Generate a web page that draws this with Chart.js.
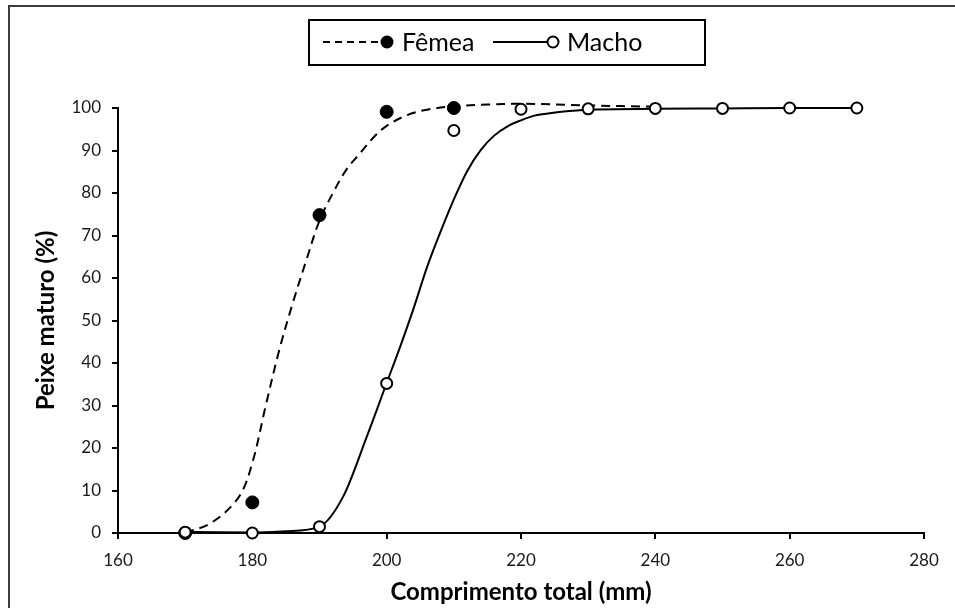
<!DOCTYPE html>
<html>
<head>
<meta charset="utf-8">
<script src="https://cdn.jsdelivr.net/npm/chart.js@4.4.0/dist/chart.umd.min.js"></script>
<style>
  html, body { margin: 0; padding: 0; background: #fff; }
  #wrap { position: relative; width: 955px; height: 608px; overflow: hidden; }
  #frame { position: absolute; left: 8px; top: 5px; width: 1000px; height: 700px;
           border-left: 2px solid #3c3c3c; border-top: 2px solid #3c3c3c; pointer-events: none; }
</style>
</head>
<body>
<div id="wrap">
  <canvas id="chart" width="955" height="608"></canvas>
  <div id="frame"></div>
</div>
<script>
// observed points
const femeaX = [170, 180, 190, 200, 210];
const femeaY = [0, 7.2, 74.8, 99.1, 100];
const machoX = [170, 180, 190, 200, 210, 220, 230, 240, 250, 260, 270];
const machoY = [0.2, 0, 1.5, 35.2, 94.7, 99.7, 99.8, 99.9, 99.9, 100, 100];

// fitted curves
const femeaFitX = [170, 174, 178, 180, 182, 184, 186, 188, 190, 192, 194, 196, 198, 200, 203, 206, 210, 215, 220, 230, 240];
const femeaFitY = [0, 2.5, 8.5, 16.5, 30, 43, 54, 64, 73.5, 80, 85.5, 89.3, 93, 95.8, 98.3, 99.6, 100.4, 100.8, 101, 100.6, 100.3];
const machoFitX = [170, 175, 180, 185, 190, 193.5, 197, 200, 202, 204, 206, 208, 210, 212, 214, 216, 218, 220, 222, 224, 226, 230, 240, 250, 260, 270];
const machoFitY = [0.3, 0.15, 0.1, 0.4, 1.5, 8.5, 22.5, 35.3, 43.8, 52.8, 62.5, 70.8, 78.5, 85.2, 90.1, 93.5, 95.7, 97.1, 98.2, 98.7, 99.1, 99.6, 99.8, 99.9, 100, 100];

const xTicks = [160, 180, 200, 220, 240, 260, 280];

function pts(xs, ys) {
  return xs.map((x, i) => ({ x: x, y: ys[i] }));
}

const legendBox = {
  id: 'legendBox',
  afterDraw(chart) {
    const ctx = chart.ctx;
    const y = 42;
    ctx.save();
    ctx.strokeStyle = '#000';
    ctx.lineWidth = 2;
    ctx.strokeRect(309, 20, 396, 45);

    // Fêmea
    ctx.setLineDash([7, 5]);
    ctx.beginPath();
    ctx.moveTo(323, y);
    ctx.lineTo(380, y);
    ctx.stroke();
    ctx.setLineDash([]);
    ctx.fillStyle = '#000';
    ctx.beginPath();
    ctx.arc(387, y, 6.5, 0, Math.PI * 2);
    ctx.fill();

    // Macho
    ctx.beginPath();
    ctx.moveTo(493, y);
    ctx.lineTo(548, y);
    ctx.stroke();
    ctx.fillStyle = '#fff';
    ctx.beginPath();
    ctx.arc(553, y, 5.5, 0, Math.PI * 2);
    ctx.fill();
    ctx.stroke();

    ctx.fillStyle = '#000';
    ctx.font = '25px Lato';
    ctx.textBaseline = 'middle';
    ctx.fillText('Fêmea', 402, y + 1);
    ctx.fillText('Macho', 567, y + 1);
    ctx.restore();
  }
};

function draw() {
  const ctx = document.getElementById('chart').getContext('2d');
  new Chart(ctx, {
    type: 'line',
    data: {
      datasets: [
        {
          label: 'Macho',
          data: pts(machoX, machoY),
          showLine: false,
          pointRadius: 5.5,
          pointBackgroundColor: '#fff',
          pointBorderColor: '#000',
          pointBorderWidth: 2,
          clip: false
        },
        {
          label: 'Fêmea',
          data: pts(femeaX, femeaY),
          showLine: false,
          pointRadius: 6.5,
          pointBackgroundColor: '#000',
          pointBorderColor: '#000',
          pointBorderWidth: 1,
          clip: false
        },
        {
          label: 'Macho ajuste',
          data: pts(machoFitX, machoFitY),
          borderColor: '#000',
          borderWidth: 2,
          pointRadius: 0,
          cubicInterpolationMode: 'monotone',
          clip: false
        },
        {
          label: 'Fêmea ajuste',
          data: pts(femeaFitX, femeaFitY),
          borderColor: '#000',
          borderWidth: 2,
          borderDash: [9, 6],
          pointRadius: 0,
          tension: 0.35,
          clip: false
        }
      ]
    },
    options: {
      responsive: false,
      animation: false,
      devicePixelRatio: 1,
      layout: { padding: { top: 108, right: 31, left: 0, bottom: 0 } },
      plugins: {
        legend: { display: false },
        tooltip: { enabled: false }
      },
      scales: {
        x: {
          type: 'linear',
          min: 160,
          max: 280,
          afterBuildTicks: function(scale) {
            scale.ticks = xTicks.map(v => ({ value: v }));
          },
          afterFit: function(scale) { scale.height = 75; },
          border: { color: '#000', width: 2 },
          grid: { drawOnChartArea: false, color: '#000', lineWidth: 2, tickLength: 6 },
          ticks: { color: '#1a1a1a', padding: 11, font: { family: 'Lato', size: 17 } },
          title: {
            display: true,
            text: 'Comprimento total (mm)',
            color: '#000',
            padding: { top: 0, bottom: 1 },
            font: { family: 'Lato', size: 24, weight: 'bold' }
          }
        },
        y: {
          min: 0,
          max: 100,
          afterFit: function(scale) { scale.width = 118; },
          border: { color: '#000', width: 2 },
          grid: { drawOnChartArea: false, color: '#000', lineWidth: 2, tickLength: 6 },
          ticks: { stepSize: 10, color: '#1a1a1a', padding: 11, font: { family: 'Lato', size: 17 } },
          title: {
            display: true,
            text: 'Peixe maturo (%)',
            color: '#000',
            padding: { top: 32, bottom: 0 },
            font: { family: 'Lato', size: 24, weight: 'bold' }
          }
        }
      }
    },
    plugins: [legendBox]
  });
}

Promise.all([
  document.fonts.load('17px Lato'),
  document.fonts.load('25px Lato'),
  document.fonts.load('bold 24px Lato')
]).then(draw, draw);
</script>
</body>
</html>
